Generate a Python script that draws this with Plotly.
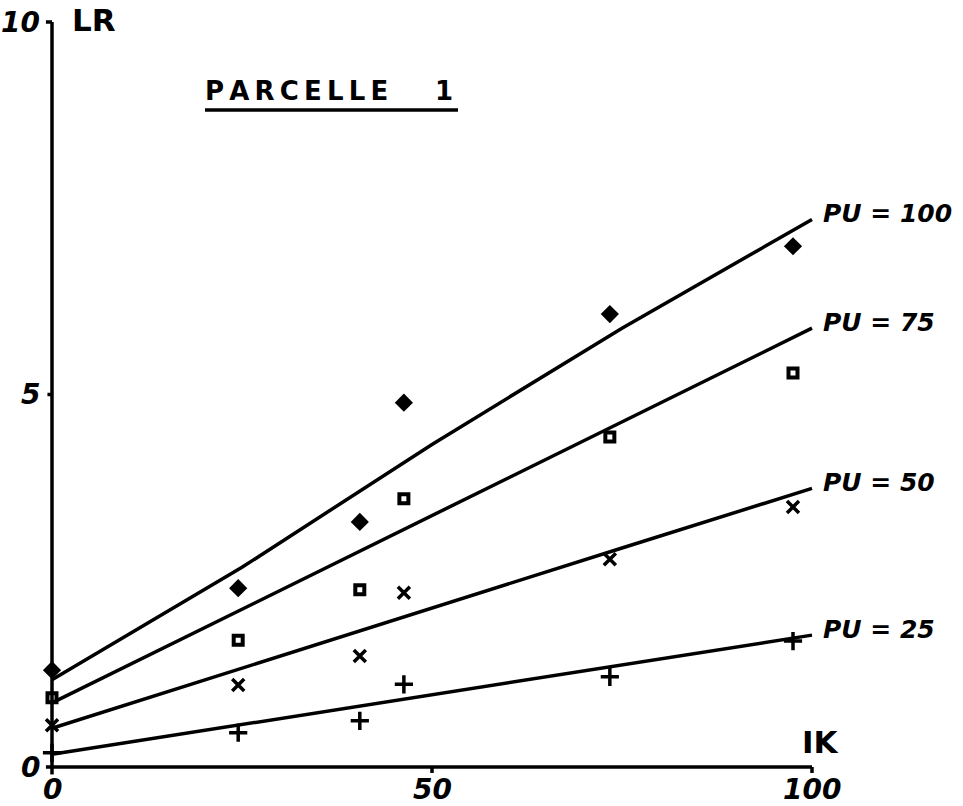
import plotly.graph_objects as go

# Measured points: IK (x) against LR (y) for each PU level
ik_pts = [0, 24.5, 40.5, 46.3, 73.4, 97.5]
lr_pu100 = [1.30, 2.40, 3.29, 4.89, 6.08, 6.99]
lr_pu75 = [0.93, 1.70, 2.38, 3.60, 4.43, 5.29]
lr_pu50 = [0.56, 1.10, 1.49, 2.34, 2.79, 3.49]
lr_pu25 = [0.19, 0.46, 0.62, 1.11, 1.21, 1.69]

# Fitted curves sampled along IK
ik_fit = [0, 25, 50, 75, 100]
fit_pu100 = [1.17, 2.68, 4.33, 5.89, 7.35]
fit_pu75 = [0.86, 2.12, 3.37, 4.63, 5.89]
fit_pu50 = [0.52, 1.33, 2.13, 2.94, 3.74]
fit_pu25 = [0.17, 0.57, 0.97, 1.37, 1.77]

curve_labels = ["PU = 100", "PU = 75", "PU = 50", "PU = 25"]
x_ticks = [0, 50, 100]
y_ticks = [0, 5, 10]

W, H = 963, 806
X0, XS = 52, 7.6      # pixel of IK=0, pixels per IK unit
Y0, YS = 767, 74.5    # pixel of LR=0, pixels per LR unit

xr = [(0 - X0) / XS, (W - X0) / XS]
yr = [(Y0 - H) / YS, Y0 / YS]

FONT = "DejaVu Sans"
INK = "black"

fig = go.Figure()

series = [
    (lr_pu100, fit_pu100, dict(symbol="diamond", size=14, color=INK, line=dict(width=0))),
    (lr_pu75, fit_pu75, dict(symbol="square-open", size=9, color=INK, line=dict(width=4, color=INK))),
    (lr_pu50, fit_pu50, dict(symbol="x-thin", size=12, color=INK, line=dict(width=3.5, color=INK))),
    (lr_pu25, fit_pu25, dict(symbol="cross-thin", size=13, color=INK, line=dict(width=3.5, color=INK))),
]

for (pts, fit, mk), name in zip(series, curve_labels):
    fig.add_trace(go.Scatter(x=ik_fit, y=fit, mode="lines", line=dict(color=INK, width=3.5),
                             showlegend=False, hoverinfo="skip"))
    fig.add_trace(go.Scatter(x=ik_pts, y=pts, mode="markers", marker=mk, name=name,
                             showlegend=False, cliponaxis=False))
    # curve label at the end of each fitted line
    fig.add_annotation(x=ik_fit[-1], y=fit[-1], text="<b><i>" + name + "</i></b>",
                       xanchor="left", yanchor="middle", xshift=9, yshift=6,
                       showarrow=False, font=dict(family=FONT, size=25, color=INK))

# Axes drawn by hand: lines and small ticks
shapes = [
    dict(type="line", x0=0, y0=0, x1=100, y1=0),
    dict(type="line", x0=0, y0=0, x1=0, y1=10),
    dict(type="line", x0=-0.8, y0=10, x1=0, y1=10),
    dict(type="line", x0=-0.6, y0=5, x1=0, y1=5),
    dict(type="line", x0=-0.8, y0=0, x1=0, y1=0),
    dict(type="line", x0=0, y0=0, x1=0, y1=-0.1),
    dict(type="line", x0=50, y0=0, x1=50, y1=-0.08),
    dict(type="line", x0=100, y0=0, x1=100, y1=-0.08),
]
for s in shapes:
    s.update(xref="x", yref="y", line=dict(color=INK, width=3.5))

# Underline of the title (paper coordinates)
shapes.append(dict(type="line", xref="paper", yref="paper",
                   x0=205 / W, x1=458 / W, y0=1 - 110 / H, y1=1 - 110 / H,
                   line=dict(color=INK, width=3.5)))

tick_font = dict(family=FONT, size=28, color=INK)
for v in x_ticks:
    fig.add_annotation(x=v, y=0, text="<b><i>%d</i></b>" % v, showarrow=False,
                       yanchor="top", yshift=-4, font=tick_font)
for v in y_ticks:
    fig.add_annotation(x=0, y=v, text="<b><i>%d</i></b>" % v, showarrow=False,
                       xanchor="right", xshift=-10, font=tick_font)

axis_font = dict(family=FONT, size=31, color=INK)
fig.add_annotation(xref="paper", yref="paper", x=70 / W, y=1 - 20 / H, text="<b>LR</b>",
                   xanchor="left", yanchor="middle", showarrow=False, font=axis_font)
fig.add_annotation(xref="paper", yref="paper", x=800 / W, y=1 - 742 / H, text="<b>IK</b>",
                   xanchor="left", yanchor="middle", showarrow=False, font=axis_font)

fig.add_annotation(xref="paper", yref="paper", x=203 / W, y=1 - 91 / H,
                   text="<b>P\u2009A\u2009R\u2009C\u2009E\u2009L\u2009L\u2009E\u2003\u2009\u2009\u2009\u20091</b>",
                   xanchor="left", yanchor="middle", showarrow=False,
                   font=dict(family=FONT, size=26, color=INK))

fig.update_layout(
    width=W, height=H,
    margin=dict(l=0, r=0, t=0, b=0),
    paper_bgcolor="white", plot_bgcolor="white",
    xaxis=dict(range=xr, visible=False, fixedrange=True),
    yaxis=dict(range=yr, visible=False, fixedrange=True),
    shapes=shapes,
)

fig.write_html("out.html")
